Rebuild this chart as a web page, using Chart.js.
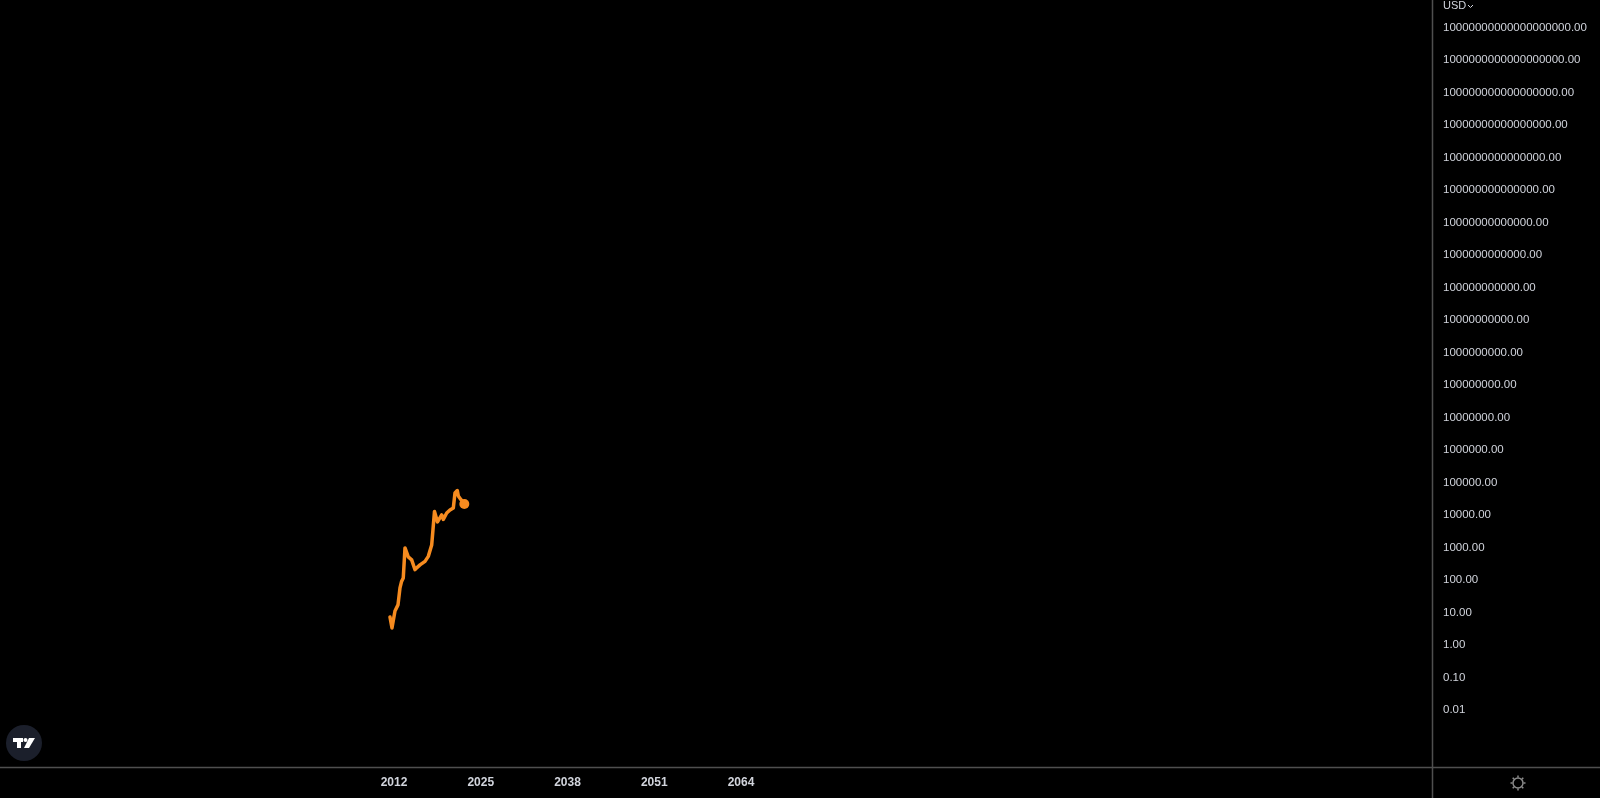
<!DOCTYPE html>
<html>
<head>
<meta charset="utf-8">
<title>BTCUSD</title>
<script src="https://cdn.jsdelivr.net/npm/chart.js@4/dist/chart.umd.min.js"></script>
<style>
  html, body { margin: 0; padding: 0; background: #000; }
  #wrap { width: 1600px; height: 798px; position: relative; }
</style>
</head>
<body>
<div id="wrap"><canvas id="chart"></canvas></div>
<script>
// ================= DATA =================
const years = [
  2011.40, 2011.70, 2012.15, 2012.60, 2012.90, 2013.12, 2013.39, 2013.65,
  2013.87, 2014.14, 2014.65, 2015.15, 2015.40, 2015.90, 2016.65, 2017.14,
  2017.65, 2017.84, 2018.07, 2018.52, 2019.15, 2019.39, 2019.90, 2020.39,
  2020.89, 2021.14, 2021.49, 2021.64, 2022.04, 2022.54,
];
const prices = [
  7.4, 3.4, 11.3, 17.4, 58, 89, 117, 980,
  740, 520, 420, 210, 240, 295, 380, 540,
  1200, 3500, 13000, 6200, 10200, 7400, 11700, 14500,
  16700, 48000, 57500, 39000, 30000, 22000,
];

const yearTicks = [2012, 2025, 2038, 2051, 2064];
const priceTicks = [
  1e-2, 1e-1, 1e0, 1e1, 1e2, 1e3, 1e4, 1e5, 1e6, 1e7, 1e8,
  1e9, 1e10, 1e11, 1e12, 1e13, 1e14, 1e15, 1e16, 1e17, 1e18, 1e19,
];

const TEXT = "#d1d4dc";
const ORANGE = "#f68b1f";
const LINE = "#4f4f4f";

// ================= DECORATION =================
const frame = {
  id: "frame",
  afterDraw(chart) {
    const { ctx, chartArea, width, height } = chart;
    ctx.save();

    // pane separators
    ctx.strokeStyle = LINE;
    ctx.lineWidth = 1.5;
    ctx.beginPath();
    ctx.moveTo(chartArea.right + 0.5, 0);
    ctx.lineTo(chartArea.right + 0.5, height);
    ctx.moveTo(0, chartArea.bottom + 0.5);
    ctx.lineTo(width, chartArea.bottom + 0.5);
    ctx.stroke();

    // currency label
    ctx.fillStyle = TEXT;
    ctx.font = "11px 'Liberation Sans', Arial, sans-serif";
    ctx.textBaseline = "middle";
    ctx.textAlign = "left";
    ctx.fillText("USD", chartArea.right + 11, 6);
    ctx.strokeStyle = TEXT;
    ctx.lineWidth = 1;
    ctx.beginPath();
    ctx.moveTo(chartArea.right + 36, 5);
    ctx.lineTo(chartArea.right + 38.5, 7.5);
    ctx.lineTo(chartArea.right + 41, 5);
    ctx.stroke();

    // logo badge
    const lx = 24, ly = 743;
    ctx.fillStyle = "#1b1f2b";
    ctx.beginPath();
    ctx.arc(lx, ly, 18, 0, Math.PI * 2);
    ctx.fill();
    ctx.fillStyle = "#ffffff";
    ctx.fillRect(lx - 11, ly - 5, 10, 4);
    ctx.fillRect(lx - 7, ly - 5, 4, 10);
    ctx.beginPath();
    ctx.arc(lx + 1.5, ly - 3, 2, 0, Math.PI * 2);
    ctx.fill();
    ctx.beginPath();
    ctx.moveTo(lx + 5, ly - 5);
    ctx.lineTo(lx + 11, ly - 5);
    ctx.lineTo(lx + 5, ly + 5);
    ctx.lineTo(lx, ly + 5);
    ctx.closePath();
    ctx.fill();

    // settings gear
    const gx = 1518, gy = chartArea.bottom + 16;
    ctx.strokeStyle = "#8a8a8a";
    ctx.lineWidth = 1.5;
    ctx.beginPath();
    ctx.arc(gx, gy, 5, 0, Math.PI * 2);
    ctx.stroke();
    ctx.beginPath();
    for (let i = 0; i < 8; i++) {
      const a = (i * Math.PI) / 4;
      ctx.moveTo(gx + Math.cos(a) * 5.5, gy + Math.sin(a) * 5.5);
      ctx.lineTo(gx + Math.cos(a) * 7.5, gy + Math.sin(a) * 7.5);
    }
    ctx.stroke();

    ctx.restore();
  },
};

// ================= CHART =================
const points = years.map((x, i) => ({ x, y: prices[i] }));
const last = points.length - 1;

new Chart(document.getElementById("chart"), {
  type: "line",
  data: {
    datasets: [
      {
        label: "BTCUSD",
        data: points,
        borderColor: ORANGE,
        backgroundColor: ORANGE,
        borderWidth: 3.5,
        borderJoinStyle: "round",
        borderCapStyle: "round",
        tension: 0,
        pointRadius: (c) => (c.dataIndex === last ? 5 : 0),
        pointBorderWidth: 0,
        pointHoverRadius: 0,
      },
    ],
  },
  options: {
    responsive: true,
    maintainAspectRatio: false,
    animation: false,
    // keep the end dot from pushing the plot area inwards
    layout: { padding: 0, autoPadding: false },
    plugins: {
      legend: { display: false },
      tooltip: { enabled: false },
    },
    scales: {
      x: {
        type: "linear",
        bounds: "data",
        min: 1952.96,
        max: 2167.55,
        grid: { display: false, drawTicks: false },
        border: { display: false },
        afterBuildTicks: (scale) => {
          scale.ticks = yearTicks.map((v) => ({ value: v }));
        },
        afterFit: (scale) => {
          scale.height = 31;
          scale.paddingLeft = 0;
          scale.paddingRight = 0;
        },
        ticks: {
          color: TEXT,
          padding: 8,
          maxRotation: 0,
          autoSkip: false,
          font: { family: "'Liberation Sans', Arial, sans-serif", size: 12, weight: "bold" },
          callback: (v) => String(v),
        },
      },
      y: {
        type: "logarithmic",
        position: "right",
        bounds: "data",
        min: 1.79e-4,
        max: 7.06e19,
        grid: { display: false, drawTicks: false },
        border: { display: false },
        afterBuildTicks: (scale) => {
          scale.ticks = priceTicks.map((v) => ({ value: v }));
        },
        afterFit: (scale) => {
          scale.width = 168;
          scale.paddingTop = 0;
          scale.paddingBottom = 0;
        },
        ticks: {
          color: TEXT,
          padding: 11,
          autoSkip: false,
          font: { family: "'Liberation Sans', Arial, sans-serif", size: 11.5 },
          callback: (v) => Number(v).toFixed(2),
        },
      },
    },
  },
  plugins: [frame],
});
</script>
</body>
</html>
